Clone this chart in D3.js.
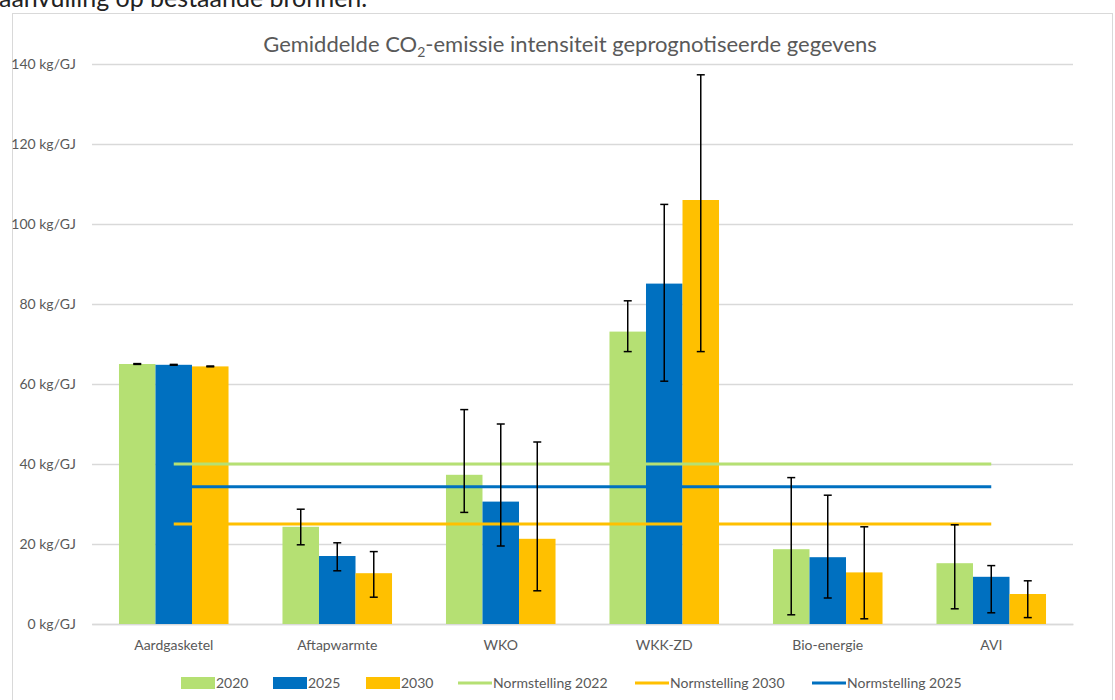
<!DOCTYPE html>
<html>
<head>
<meta charset="utf-8">
<script src="https://cdn.jsdelivr.net/npm/d3@7"></script>
<style>
  body { margin: 0; background: #fff; }
  svg { display: block; font-family: Lato, "Open Sans", sans-serif; }
</style>
</head>
<body>
<svg width="1115" height="700"></svg>
<script>
const categories = ['Aardgasketel', 'Aftapwarmte', 'WKO', 'WKK-ZD', 'Bio-energie', 'AVI'];
const years = ['2020', '2025', '2030'];

// gemiddelde per jaar
const values2020 = [65, 24.3, 37.3, 73.1, 18.7, 15.2];
const values2025 = [64.8, 17, 30.6, 85.1, 16.7, 11.8];
const values2030 = [64.4, 12.7, 21.3, 106, 12.9, 7.5];

// foutbalken: onder- en bovengrens
const low2020 = [64.9, 19.8, 27.9, 68.1, 2.3, 3.8];
const high2020 = [65.1, 28.7, 53.6, 80.8, 36.6, 24.8];
const low2025 = [64.7, 13.3, 19.5, 60.7, 6.5, 2.8];
const high2025 = [64.9, 20.3, 50, 104.9, 32.2, 14.6];
const low2030 = [64.3, 6.7, 8.3, 68.1, 1.3, 1.6];
const high2030 = [64.5, 18.1, 45.5, 137.3, 24.3, 10.8];

const normNames = ['Normstelling 2022', 'Normstelling 2030', 'Normstelling 2025'];
const normValues = [40, 25, 34.3];

const yTicks = [0, 20, 40, 60, 80, 100, 120, 140];

const colors = {'2020': '#B5E073', '2025': '#0070C0', '2030': '#FFC000'};
const normColors = ['#B5E073', '#FFC000', '#0070C0'];

const seriesValues = [values2020, values2025, values2030];
const seriesLow = [low2020, low2025, low2030];
const seriesHigh = [high2020, high2025, high2030];

const svg = d3.select('svg');
const width = +svg.attr('width');
const height = +svg.attr('height');

const margin = {top: 64, right: 42, bottom: 76, left: 92};
const innerWidth = width - margin.left - margin.right;
const innerHeight = height - margin.top - margin.bottom;

// tekst boven de grafiek (afgesneden)
svg.append('text')
  .attr('x', -1).attr('y', 7)
  .style('font-size', '25px')
  .attr('fill', '#222')
  .text('aanvulling op bestaande bronnen.');

// kader van de grafiek
svg.append('rect')
  .attr('x', 12.5).attr('y', 13.5)
  .attr('width', 1100).attr('height', 700)
  .attr('fill', '#fff')
  .attr('stroke', '#D9D9D9');

const g = svg.append('g')
  .attr('transform', `translate(${margin.left},${margin.top})`);

const yScale = d3.scaleLinear()
  .domain([0, 140])
  .range([innerHeight, 0]);

const xScale = d3.scaleBand()
  .domain(categories)
  .range([0, innerWidth])
  .paddingInner(0.33)
  .paddingOuter(0.165);

const xSub = d3.scaleBand()
  .domain(years)
  .range([0, xScale.bandwidth()]);

// rasterlijnen
const yAxis = d3.axisLeft(yScale)
  .tickValues(yTicks)
  .tickSize(-innerWidth)
  .tickPadding(16)
  .tickFormat(d => d + ' kg/GJ');

const yAxisG = g.append('g').call(yAxis);
yAxisG.attr('font-size', null).attr('font-family', null).attr('fill', null);
yAxisG.select('.domain').remove();
yAxisG.selectAll('line').attr('stroke', '#D9D9D9').attr('stroke-width', 1.3);
yAxisG.selectAll('text')
  .attr('fill', '#595959')
  .style('font-size', '14px')
  .style('font-family', 'Lato, sans-serif');

const xAxis = d3.axisBottom(xScale).tickSize(0).tickPadding(16);
const xAxisG = g.append('g')
  .attr('transform', `translate(0,${innerHeight})`)
  .call(xAxis);
xAxisG.attr('font-size', null).attr('font-family', null).attr('fill', null);
xAxisG.select('.domain').attr('stroke', '#D9D9D9').attr('stroke-width', 1.3).attr('fill', 'none');
xAxisG.selectAll('text')
  .attr('fill', '#595959')
  .style('font-size', '14px')
  .style('font-family', 'Lato, sans-serif');

// staven
years.forEach((year, si) => {
  g.append('g').selectAll('rect')
    .data(categories)
    .enter().append('rect')
      .attr('x', (c) => xScale(c) + xSub(year))
      .attr('y', (c, i) => yScale(seriesValues[si][i]))
      .attr('width', xSub.bandwidth())
      .attr('height', (c, i) => innerHeight - yScale(seriesValues[si][i]))
      .attr('fill', colors[year]);
});

// normlijnen
const lineX0 = xScale(categories[0]) + xScale.bandwidth() / 2;
const lineX1 = xScale(categories[categories.length - 1]) + xScale.bandwidth() / 2;
normValues.forEach((v, i) => {
  g.append('line')
    .attr('x1', lineX0).attr('x2', lineX1)
    .attr('y1', yScale(v)).attr('y2', yScale(v))
    .attr('stroke', normColors[i])
    .attr('stroke-width', 3);
});

// foutbalken
years.forEach((year, si) => {
  const eb = g.append('g').selectAll('g')
    .data(categories)
    .enter().append('g')
      .attr('transform', c => `translate(${xScale(c) + xSub(year) + xSub.bandwidth() / 2},0)`);
  eb.append('line')
    .attr('y1', (c, i) => yScale(seriesLow[si][i]))
    .attr('y2', (c, i) => yScale(seriesHigh[si][i]))
    .attr('stroke', '#000').attr('stroke-width', 1.5);
  [seriesLow[si], seriesHigh[si]].forEach(arr => {
    eb.append('line')
      .attr('x1', -4).attr('x2', 4)
      .attr('y1', (c, i) => yScale(arr[i]))
      .attr('y2', (c, i) => yScale(arr[i]))
      .attr('stroke', '#000').attr('stroke-width', 1.5);
  });
});

// titel
const title = svg.append('text')
  .attr('x', 570).attr('y', 52)
  .attr('text-anchor', 'middle')
  .style('font-size', '22px')
  .attr('fill', '#595959');
title.append('tspan').text('Gemiddelde CO');
title.append('tspan').style('font-size', '14px').attr('dy', 5).text('2');
title.append('tspan').attr('dy', -5).text('-emissie intensiteit geprognotiseerde gegevens');

// legenda
const legendItems = [
  {label: '2020', color: colors['2020'], type: 'rect', x: 181},
  {label: '2025', color: colors['2025'], type: 'rect', x: 273},
  {label: '2030', color: colors['2030'], type: 'rect', x: 366},
  {label: normNames[0], color: normColors[0], type: 'line', x: 458},
  {label: normNames[1], color: normColors[1], type: 'line', x: 635},
  {label: normNames[2], color: normColors[2], type: 'line', x: 812}
];
const legend = svg.append('g').attr('transform', 'translate(0,683)');
const li = legend.selectAll('g')
  .data(legendItems)
  .enter().append('g')
    .attr('transform', d => `translate(${d.x},0)`);
li.filter(d => d.type === 'rect').append('rect')
  .attr('x', 0).attr('y', -6)
  .attr('width', 34).attr('height', 12)
  .attr('fill', d => d.color);
li.filter(d => d.type === 'line').append('line')
  .attr('x1', 0).attr('x2', 34)
  .attr('stroke', d => d.color)
  .attr('stroke-width', 3);
li.append('text')
  .attr('x', 35).attr('y', 0)
  .attr('dy', '0.35em')
  .style('font-size', '14px')
  .attr('fill', '#595959')
  .text(d => d.label);
</script>
</body>
</html>
